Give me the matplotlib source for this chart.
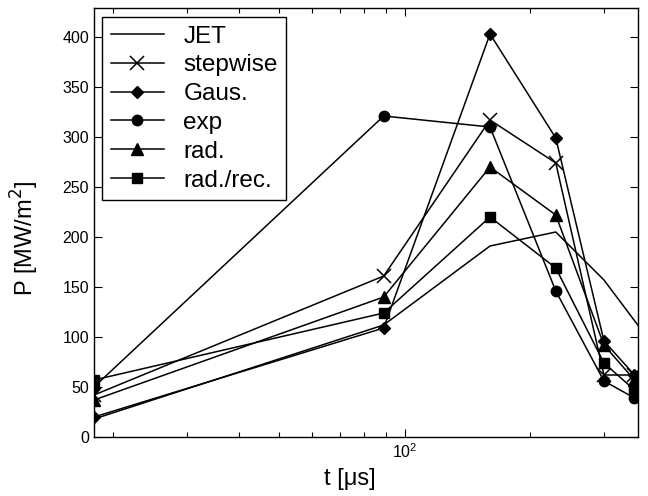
import matplotlib
matplotlib.use("Agg")
import matplotlib.pyplot as plt
from matplotlib.ticker import NullFormatter, FixedLocator

plt.rcParams['font.family'] = ['Liberation Sans', 'DejaVu Sans']

# time points [us]
t = [18, 89, 160, 230, 300, 355]
t_jet = [18, 89, 160, 230, 300, 380]

jet = [18, 112, 191, 205, 157, 100]
stepwise = [42, 161, 317, 274, 62, 62]
gaus = [20, 109, 403, 299, 96, 62]
expo = [50, 321, 310, 146, 56, 39]
rad = [37, 140, 270, 222, 92, 57]
radrec = [57, 124, 220, 169, 74, 47]

labels = ['JET', 'stepwise', 'Gaus.', 'exp', 'rad.', 'rad./rec.']

fig = plt.figure(figsize=(6.48, 4.96), dpi=100)
ax = fig.add_axes([94/648, 1-437/496, 544/648, 429/496])

lw = 1.1
c = 'black'
ax.plot(t_jet, jet, '-', color=c, lw=lw, label=labels[0])
ax.plot(t, stepwise, '-x', color=c, lw=lw, ms=10, mew=1.1, label=labels[1])
ax.plot(t, gaus, '-D', color=c, lw=lw, ms=6, label=labels[2])
ax.plot(t, expo, '-o', color=c, lw=lw, ms=7.5, label=labels[3])
ax.plot(t, rad, '-^', color=c, lw=lw, ms=8, label=labels[4])
ax.plot(t, radrec, '-s', color=c, lw=lw, ms=6.5, label=labels[5])

ax.set_xscale('log')
ax.set_xlim(18, 362)
ax.set_ylim(0, 429)
ax.set_yticks([0, 50, 100, 150, 200, 250, 300, 350, 400])
ax.xaxis.set_major_locator(FixedLocator([100]))
ax.xaxis.set_minor_locator(FixedLocator([20, 30, 40, 50, 60, 70, 80, 90, 200, 300]))
ax.xaxis.set_minor_formatter(NullFormatter())

ax.tick_params(which='both', direction='in', top=True, right=True, labelsize=11.5)
ax.tick_params(which='major', length=6, width=0.8)
ax.tick_params(which='minor', length=3.5, width=0.8)
for sp in ax.spines.values():
    sp.set_linewidth(1.0)

ax.set_xlabel('t [μs]', fontsize=17)
ax.xaxis.set_label_coords(0.47, -0.072)
ax.set_ylabel('P [MW/m$^2$]', fontsize=17)
ax.yaxis.set_label_coords(-0.097, 0.464)

leg = ax.legend(loc='upper left', bbox_to_anchor=(0.0147, 0.979), borderaxespad=0,
                fontsize=17.5, frameon=True, fancybox=False, framealpha=1,
                edgecolor='black', handlelength=2.2, labelspacing=0.28,
                handletextpad=0.8, borderpad=0.35)
leg.get_frame().set_linewidth(1.0)

fig.savefig('out.png', dpi=100)
